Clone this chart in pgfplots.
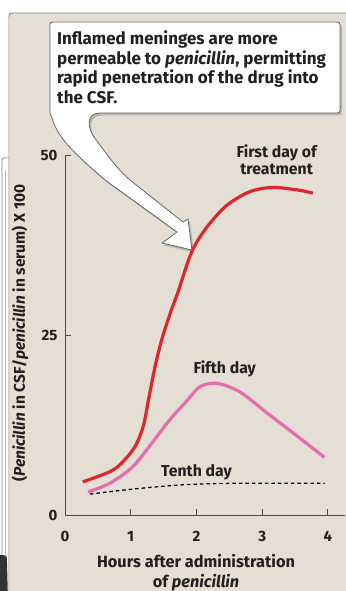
\documentclass[border=0pt]{standalone}
\usepackage{pgfplots}
\pgfplotsset{compat=1.18}
\usepackage{fontspec}
\setmainfont{Fira Sans}
\definecolor{panel}{RGB}{228,222,213}
\definecolor{frame}{RGB}{140,134,128}
\definecolor{firstred}{RGB}{222,38,45}
\definecolor{fifthpink}{RGB}{228,110,172}
\definecolor{txt}{RGB}{35,31,32}
\begin{document}
\begin{tikzpicture}
\useasboundingbox (0pt,0pt) rectangle (345pt,-591pt);
\begin{scope}[x=1pt,y=-1pt]
  % background panel
  \fill[white] (0,0) rectangle (345,591);
  \fill[panel] (9.5,13.5) rectangle (352,600);
  \draw[frame, line width=0.9pt] (9,600) -- (9,19) .. controls (9,13) .. (15,13) -- (352,13);
  % left artifact
  \draw[frame, line width=0.8pt] (2,600) -- (2,163) .. controls (2,158) .. (7,158) -- (9,158);
  \draw[frame!60, line width=0.8pt] (5,170) -- (5,600);
  \fill[black!80] (-5,555) -- (3,555) .. controls (7,556) .. (7,562) -- (8,600) -- (-5,600) -- cycle;
  % callout shape
  \def\callout{(56,22) -- (334,22) .. controls (340,22) .. (340,28) -- (340,107) .. controls (340,113) .. (334,113) -- (100,113) .. controls (86,113) and (86,128) .. (97,141) .. controls (106,153) and (116,168) .. (130,180) -- (183,222) -- (188,219) -- (192,250) -- (162,243) -- (177,232) -- (105,180) .. controls (80,158) and (58,140) .. (52,118) -- (50,113) -- (50,28) .. controls (50,22) .. (56,22) -- cycle}
  \fill[black, opacity=0.18] [shift={(2,2.5)}] \callout;
  \draw[black!60, line width=0.8pt, fill=white, line join=round] \callout;
  \node[anchor=north west, align=left, inner sep=0pt, text=txt, font=\fontsize{17}{19.5}\selectfont\bfseries] at (57,31)
   {Inflamed meninges are more\\permeable to \textit{penicillin}, permitting\\rapid penetration of the drug into\\the CSF.};
  % axis titles
  \node[rotate=90, text=txt, font=\fontsize{15.5}{16}\selectfont\bfseries] at (20,333)
   {(\textit{Penicillin} in CSF/\textit{penicillin} in serum) X 100};
  \node[align=center, text=txt, font=\fontsize{16.3}{20}\selectfont\bfseries, anchor=north] at (196,551)
   {Hours after administration\\of \textit{penicillin}};
\end{scope}
\begin{axis}[
  at={(65pt,-515pt)}, anchor=south west,
  scale only axis, width=280pt, height=360pt,
  xmin=0, xmax=4.26, ymin=0, ymax=50,
  axis lines*=left,
  axis line style={-, line width=0.9pt, color=black!70},
  xtick={0,1,2,3,4}, ytick={0,25,50},
  tick align=inside, major tick length=6pt,
  tick style={line width=0.9pt, color=black!70},
  /pgf/number format/assume math mode=true,
  tick label style={font=\fontsize{15}{15}\selectfont\bfseries, text=txt},
  xticklabel style={yshift=-13pt},
  yticklabel style={xshift=-4pt},
  clip=false,
]
\addplot[firstred, line width=3.2pt, smooth, tension=0.5] coordinates {
 (0.27,4.6) (0.68,6.0) (0.86,7.2) (1.065,9.5) (1.19,12.3) (1.27,16.0) (1.37,20.6)
 (1.47,24.3) (1.60,28.0) (1.72,31.0) (1.93,36.6) (2.16,40.0) (2.46,43.0) (2.81,44.9) (3.16,45.5) (3.57,45.1) (3.77,44.7)};
\addplot[fifthpink, line width=3.2pt, smooth, tension=0.5] coordinates {
 (0.35,3.2) (0.68,4.4) (1.03,6.7) (1.34,10.2) (1.60,13.3) (1.85,15.8) (2.05,17.8) (2.31,18.3)
 (2.66,17.1) (3.07,14.2) (3.47,11.4) (3.95,8.0)};
\addplot[black, line width=1.3pt, dash pattern=on 3.5pt off 3pt, smooth] coordinates {
 (0.38,2.9) (1.03,3.6) (1.80,4.2) (2.56,4.4) (3.95,4.4)};
\node[align=center, text=txt, font=\fontsize{15.8}{17}\selectfont\bfseries] at (axis cs:3.22,49.3) {First day of\\treatment};
\node[text=txt, font=\fontsize{15.8}{17}\selectfont\bfseries] at (axis cs:2.43,20.3) {Fifth day};
\node[text=txt, font=\fontsize{15.8}{17}\selectfont\bfseries] at (axis cs:2.0,5.9) {Tenth day};
\end{axis}
\end{tikzpicture}
\end{document}
